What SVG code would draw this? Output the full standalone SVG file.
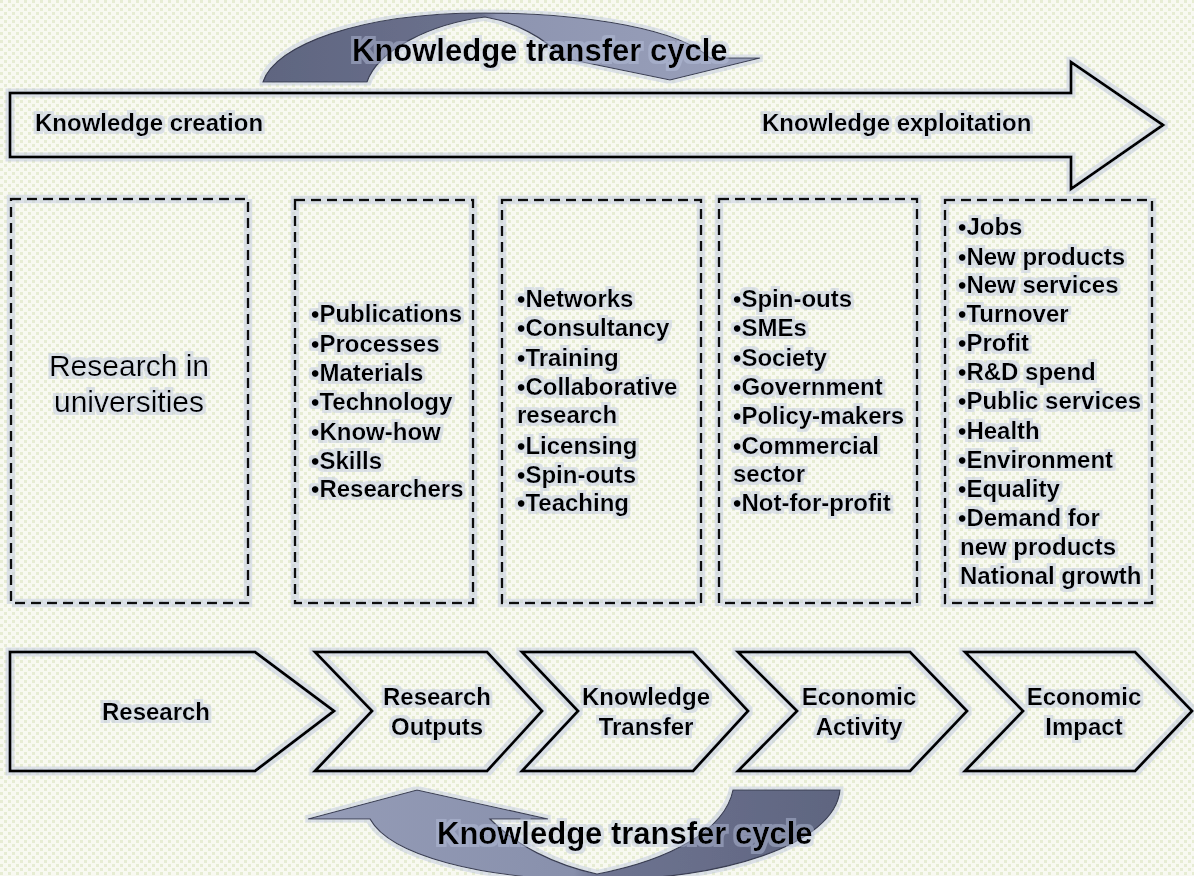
<svg xmlns="http://www.w3.org/2000/svg" width="1194" height="876" viewBox="0 0 1194 876">
<defs>
<pattern id="dots" x="0" y="0" width="8" height="8" patternUnits="userSpaceOnUse">
<rect width="8" height="8" fill="#f8f9f1"/>
<rect x="0" y="0" width="3" height="3" fill="#e6ecd3"/>
<rect x="4" y="4" width="3" height="3" fill="#e6ecd3"/>
</pattern>
<linearGradient id="gTop" gradientUnits="userSpaceOnUse" x1="263" y1="0" x2="760" y2="0">
<stop offset="0" stop-color="#5f6580"/>
<stop offset="0.44" stop-color="#6c728e"/>
<stop offset="0.47" stop-color="#8d94b0"/>
<stop offset="1" stop-color="#9aa1bb"/>
</linearGradient>
<linearGradient id="gBot" gradientUnits="userSpaceOnUse" x1="308" y1="0" x2="840" y2="0">
<stop offset="0" stop-color="#959cb7"/>
<stop offset="0.5" stop-color="#8890ac"/>
<stop offset="0.54" stop-color="#6e7491"/>
<stop offset="1" stop-color="#5f6580"/>
</linearGradient>
<filter id="halo" x="-10%" y="-10%" width="120%" height="120%">
<feMorphology in="SourceAlpha" operator="dilate" radius="3" result="d"/>
<feFlood flood-color="#b9c3de" flood-opacity="0.45"/>
<feComposite in2="d" operator="in" result="h"/>
<feMerge><feMergeNode in="h"/><feMergeNode in="SourceGraphic"/></feMerge>
</filter>
</defs>
<style>
.b{font-family:"Liberation Sans",Arial,sans-serif;font-weight:bold;font-size:24px;fill:#000}
.r{font-family:"Liberation Sans",Arial,sans-serif;font-size:30px;fill:#000}
.cyc{font-family:"Liberation Sans",Arial,sans-serif;font-weight:bold;font-size:31px;fill:#000}
.box{fill:none;stroke:#111;stroke-width:2.5;stroke-dasharray:10 6}
.shape{fill:none;stroke:#000;stroke-width:3;stroke-linejoin:miter}
.curv{stroke:#3a3e52;stroke-width:1.2}
</style>
<rect id="background" width="1194" height="876" fill="url(#dots)"/>

<g id="connectors">
<path id="cycle-top-arrow" class="curv" fill="url(#gTop)" filter="url(#halo)" d="M263,82 C275,45 360,13 483,13 C590,13 680,30 710,58 L760,58 L670,80 L563,58 C545,38 515,22 485,17 C430,24 378,50 367,82 Z"/>
<path id="cycle-bottom-arrow" class="curv" fill="url(#gBot)" filter="url(#halo)" d="M840,790 C835,845 720,880 600,880 C480,880 390,855 370,819 L308,819 L417,790 L548,819 L490,819 C515,845 555,865 597,874 C670,860 725,830 733,790 Z"/>
</g>

<g id="cycle-top-label" filter="url(#halo)">
<text class="cyc" x="352" y="61">Knowledge transfer cycle</text>
</g>

<g id="knowledge-arrow" filter="url(#halo)">
<path class="shape" d="M10,93 L1071,93 L1071,62 L1163,125 L1071,189 L1071,157 L10,157 Z"/>
<text class="b" x="35" y="131">Knowledge creation</text>
<text class="b" x="762" y="131">Knowledge exploitation</text>
</g>

<g id="box-research" filter="url(#halo)">
<rect class="box" x="11" y="199" width="237" height="404"/>
<text class="r" x="129" y="376" text-anchor="middle">Research in</text>
<text class="r" x="129" y="412" text-anchor="middle">universities</text>
</g>

<g id="box-outputs" filter="url(#halo)">
<rect class="box" x="295" y="200" width="178" height="403"/>
<text class="b" x="311">
<tspan x="311" y="322">•Publications</tspan>
<tspan x="311" y="352">•Processes</tspan>
<tspan x="311" y="381">•Materials</tspan>
<tspan x="311" y="410">•Technology</tspan>
<tspan x="311" y="440">•Know-how</tspan>
<tspan x="311" y="469">•Skills</tspan>
<tspan x="311" y="497">•Researchers</tspan>
</text>
</g>

<g id="box-transfer" filter="url(#halo)">
<rect class="box" x="502" y="200" width="199" height="403"/>
<text class="b">
<tspan x="517" y="307">•Networks</tspan>
<tspan x="517" y="336">•Consultancy</tspan>
<tspan x="517" y="366">•Training</tspan>
<tspan x="517" y="395">•Collaborative</tspan>
<tspan x="517" y="423">research</tspan>
<tspan x="517" y="454">•Licensing</tspan>
<tspan x="517" y="483">•Spin-outs</tspan>
<tspan x="517" y="511">•Teaching</tspan>
</text>
</g>

<g id="box-activity" filter="url(#halo)">
<rect class="box" x="719" y="199" width="198" height="404"/>
<text class="b">
<tspan x="733" y="307">•Spin-outs</tspan>
<tspan x="733" y="336">•SMEs</tspan>
<tspan x="733" y="366">•Society</tspan>
<tspan x="733" y="395">•Government</tspan>
<tspan x="733" y="424">•Policy-makers</tspan>
<tspan x="733" y="454">•Commercial</tspan>
<tspan x="733" y="482">sector</tspan>
<tspan x="733" y="511">•Not-for-profit</tspan>
</text>
</g>

<g id="box-impact" filter="url(#halo)">
<rect class="box" x="945" y="200" width="207" height="403"/>
<text class="b">
<tspan x="958" y="235">•Jobs</tspan>
<tspan x="958" y="265">•New products</tspan>
<tspan x="958" y="293">•New services</tspan>
<tspan x="958" y="322">•Turnover</tspan>
<tspan x="958" y="351">•Profit</tspan>
<tspan x="958" y="380">•R&amp;D spend</tspan>
<tspan x="958" y="409">•Public services</tspan>
<tspan x="958" y="439">•Health</tspan>
<tspan x="958" y="468">•Environment</tspan>
<tspan x="958" y="497">•Equality</tspan>
<tspan x="958" y="526">•Demand for</tspan>
<tspan x="960" y="555">new products</tspan>
<tspan x="960" y="584">National growth</tspan>
</text>
</g>

<g id="chevron-research" filter="url(#halo)">
<path class="shape" d="M10,652 L255,652 L334,711 L255,771 L10,771 Z"/>
<text class="b" x="156" y="720" text-anchor="middle">Research</text>
</g>
<g id="chevron-outputs" filter="url(#halo)">
<path class="shape" d="M315,652 L487,652 L542,711 L487,771 L315,771 L372,711 Z"/>
<text class="b" text-anchor="middle"><tspan x="437" y="705">Research</tspan><tspan x="437" y="735">Outputs</tspan></text>
</g>
<g id="chevron-transfer" filter="url(#halo)">
<path class="shape" d="M522,652 L693,652 L748,711 L693,771 L522,771 L578,711 Z"/>
<text class="b" text-anchor="middle"><tspan x="646" y="705">Knowledge</tspan><tspan x="646" y="735">Transfer</tspan></text>
</g>
<g id="chevron-activity" filter="url(#halo)">
<path class="shape" d="M738,652 L910,652 L967,711 L910,771 L738,771 L797,711 Z"/>
<text class="b" text-anchor="middle"><tspan x="859" y="705">Economic</tspan><tspan x="859" y="735">Activity</tspan></text>
</g>
<g id="chevron-impact" filter="url(#halo)">
<path class="shape" d="M965,652 L1135,652 L1192,711 L1135,771 L965,771 L1023,711 Z"/>
<text class="b" text-anchor="middle"><tspan x="1084" y="705">Economic</tspan><tspan x="1084" y="735">Impact</tspan></text>
</g>

<g id="cycle-bottom-label" filter="url(#halo)">
<text class="cyc" x="437" y="844">Knowledge transfer cycle</text>
</g>
</svg>
